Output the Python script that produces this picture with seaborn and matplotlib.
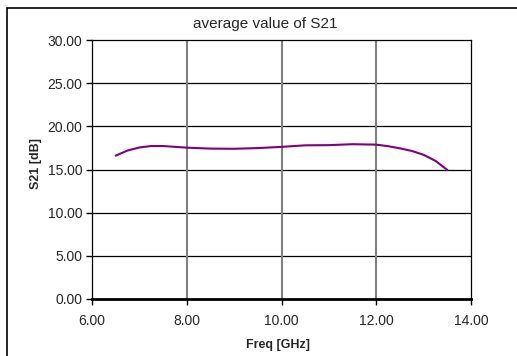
import numpy as np
import pandas as pd
import matplotlib.pyplot as plt
from matplotlib.patches import Rectangle
import seaborn as sns

# data
freq_ghz = [6.5, 6.75, 7.0, 7.25, 7.5, 8.0, 8.5, 9.0, 9.5, 10.0, 10.5, 11.0,
            11.5, 12.0, 12.25, 12.5, 12.75, 13.0, 13.25, 13.5]
s21_db = [16.6, 17.2, 17.55, 17.72, 17.72, 17.53, 17.42, 17.4, 17.48, 17.62,
          17.8, 17.82, 17.93, 17.88, 17.7, 17.45, 17.15, 16.7, 16.0, 14.95]
x_ticks = [6.0, 8.0, 10.0, 12.0, 14.0]
y_ticks = [0.0, 5.0, 10.0, 15.0, 20.0, 25.0, 30.0]

df = pd.DataFrame({"freq": freq_ghz, "s21": s21_db})

sns.set_theme(style="white")
plt.rcParams['font.family'] = ['Liberation Sans', 'DejaVu Sans']

fig = plt.figure(figsize=(5.17, 3.56), dpi=100)
ax = fig.add_axes([92 / 517, 1 - 299 / 356, (471 - 92) / 517, (299 - 40) / 356])

# outer chart frame (right and bottom are cut off in the original)
fig.patches.append(Rectangle((7 / 517, -0.1), 1.2, 1.1 - 8 / 356, transform=fig.transFigure,
                             fill=False, edgecolor='black', linewidth=1.2, zorder=0))

sns.lineplot(data=df, x="freq", y="s21", ax=ax, color='#800080', linewidth=1.5)

ax.set_xlim(6, 14)
ax.set_ylim(0, 30)
ax.set_xticks(x_ticks)
ax.set_yticks(y_ticks)
ax.set_xticklabels([f"{v:.2f}" for v in x_ticks], fontsize=10)
ax.set_yticklabels([f"{v:.2f}" for v in y_ticks], fontsize=10)
ax.tick_params(axis='both', direction='out', length=4, width=1, color='black',
               bottom=True, left=True)
ax.tick_params(axis='x', pad=7)
ax.tick_params(axis='y', pad=3)

for v in y_ticks[1:-1]:
    ax.axhline(v, color='black', linewidth=0.9, zorder=1)
for v in x_ticks[1:-1]:
    ax.axvline(v, color='#808080', linewidth=1.5, zorder=1)

for side in ['top', 'left', 'right']:
    ax.spines[side].set_color('black')
    ax.spines[side].set_linewidth(0.9)
ax.spines['bottom'].set_color('black')
ax.spines['bottom'].set_linewidth(2)

ax.set_xlabel("Freq [GHz]", fontsize=9, fontweight='bold')
ax.set_ylabel("S21 [dB]", fontsize=9, fontweight='bold')
ax.xaxis.set_label_coords(0.49, -0.155)
ax.yaxis.set_label_coords(-0.133, 0.525)
fig.text(265 / 517, 1 - 24 / 356, "average value of S21", fontsize=11, ha='center', va='center')

plt.savefig("out.png", dpi=100)
plt.close()
